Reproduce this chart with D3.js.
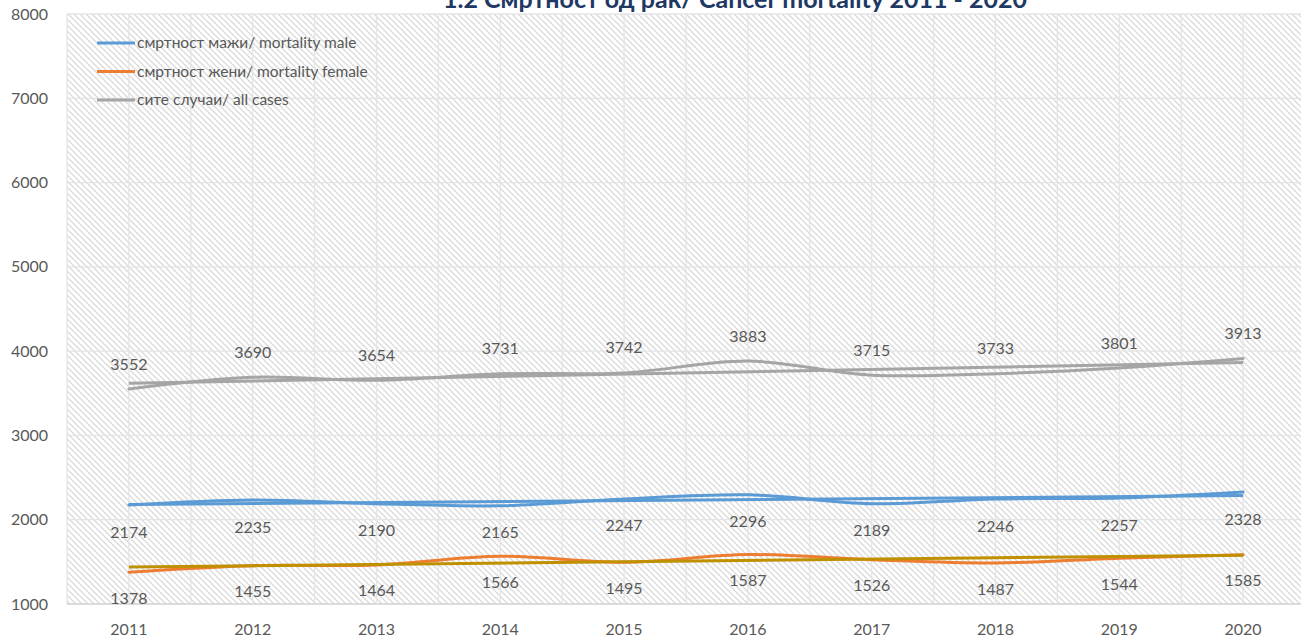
<!DOCTYPE html>
<html>
<head>
<meta charset="utf-8">
<script src="https://cdn.jsdelivr.net/npm/d3@7"></script>
<style>
  body { margin: 0; background: #fff; }
  svg { display: block; font-family: Lato, "Open Sans", sans-serif; }
</style>
</head>
<body>
<svg id="chart" width="1301" height="642"></svg>
<script>
// Data
const YEARS = ["2011", "2012", "2013", "2014", "2015", "2016", "2017", "2018", "2019", "2020"];
const MALE = [2174, 2235, 2190, 2165, 2247, 2296, 2189, 2246, 2257, 2328];
const FEMALE = [1378, 1455, 1464, 1566, 1495, 1587, 1526, 1487, 1544, 1585];
const ALL = [3552, 3690, 3654, 3731, 3742, 3883, 3715, 3733, 3801, 3913];
// trend lines, values at the first and last year
const TREND_MALE = [2180, 2286];
const TREND_FEMALE = [1438, 1579];
const TREND_ALL = [3618, 3865];
const Y_TICKS = [1000, 2000, 3000, 4000, 5000, 6000, 7000, 8000];
const LEGEND = ["смртност мажи/ mortality male", "смртност жени/ mortality female", "сите случаи/ all cases"];
const TITLE = "1.2 Смртност од рак/ Cancer mortality 2011 - 2020";

const SVG = d3.select("#chart");
const PLOT = { left: 67, right: 1305, top: 14, bottom: 604 };
const TEXT = "#595959";

const X = d3.scaleBand().domain(YEARS).range([PLOT.left, PLOT.right]);
const XC = d => X(d) + X.bandwidth() / 2;
const Y = d3.scaleLinear().domain([1000, 8000]).range([PLOT.bottom, PLOT.top]);

// hatched background
const defs = SVG.append("defs");
const pat = defs.append("pattern")
  .attr("id", "hatch").attr("patternUnits", "userSpaceOnUse")
  .attr("width", 6).attr("height", 6);
pat.append("rect").attr("width", 6).attr("height", 6).attr("fill", "#fff");
pat.append("path").attr("d", "M-1,-1 L7,7 M-1,5 L1,7 M5,-1 L7,1")
  .attr("stroke", "#dadada").attr("stroke-width", 1.3);

SVG.append("rect")
  .attr("x", PLOT.left).attr("y", PLOT.top)
  .attr("width", PLOT.right - PLOT.left).attr("height", PLOT.bottom - PLOT.top)
  .attr("fill", "url(#hatch)");

// title, cut by the top edge as in the source
SVG.append("text")
  .attr("x", 735).attr("y", 8)
  .attr("text-anchor", "middle")
  .attr("font-size", 25).attr("font-weight", "bold")
  .attr("fill", "#203864")
  .text(TITLE);

// grid
SVG.append("g").selectAll("line").data(Y_TICKS).join("line")
  .attr("x1", PLOT.left).attr("x2", PLOT.right)
  .attr("y1", d => Y(d)).attr("y2", d => Y(d))
  .attr("stroke", d => d === 1000 ? "#d0d0d0" : "#e4e4e4").attr("stroke-width", 1.3);

const vLines = YEARS.flatMap(y => [X(y), XC(y)]);
SVG.append("g").selectAll("line").data(vLines).join("line")
  .attr("x1", d => d).attr("x2", d => d)
  .attr("y1", PLOT.top).attr("y2", PLOT.bottom)
  .attr("stroke", "#e4e4e4").attr("stroke-width", 1.3);

// axes labels
SVG.append("g").selectAll("text").data(Y_TICKS).join("text")
  .attr("x", 48).attr("y", d => Y(d))
  .attr("dy", "0.35em").attr("text-anchor", "end")
  .attr("font-size", 16).attr("fill", TEXT)
  .text(d => d);

SVG.append("g").selectAll("text").data(YEARS).join("text")
  .attr("x", d => XC(d)).attr("y", 629)
  .attr("dy", "0.35em").attr("text-anchor", "middle")
  .attr("font-size", 16).attr("fill", TEXT)
  .text(d => d);

// series
const series = [
  { values: ALL, trend: TREND_ALL, color: "#a5a5a5", trendColor: "#a5a5a5", dy: -25 },
  { values: MALE, trend: TREND_MALE, color: "#5b9bd5", trendColor: "#5b9bd5", dy: 27 },
  { values: FEMALE, trend: TREND_FEMALE, color: "#ed7d31", trendColor: "#bf9000", dy: 26 }
];

const line = d3.line()
  .x((d, i) => XC(YEARS[i]))
  .y(d => Y(d))
  .curve(d3.curveCatmullRom.alpha(0.5));

series.forEach(s => {
  SVG.append("path")
    .datum(s.values)
    .attr("d", line)
    .attr("fill", "none")
    .attr("stroke", s.color).attr("stroke-width", 3)
    .attr("stroke-linecap", "round");
});

series.forEach(s => {
  SVG.append("line")
    .attr("x1", XC(YEARS[0])).attr("x2", XC(YEARS[YEARS.length - 1]))
    .attr("y1", Y(s.trend[0])).attr("y2", Y(s.trend[1]))
    .attr("stroke", s.trendColor).attr("stroke-width", 3);
});

series.forEach(s => {
  SVG.append("g").selectAll("text").data(s.values).join("text")
    .attr("x", (d, i) => XC(YEARS[i]))
    .attr("y", d => Y(d) + s.dy)
    .attr("dy", "0.35em").attr("text-anchor", "middle")
    .attr("font-size", 16).attr("fill", TEXT)
    .text(d => d);
});

// legend
const lg = SVG.append("g").selectAll("g").data(LEGEND).join("g")
  .attr("transform", (d, i) => `translate(97, ${43 + i * 28.5})`);
lg.append("line")
  .attr("x1", 0).attr("x2", 38)
  .attr("stroke", (d, i) => series[[1, 2, 0][i]].color)
  .attr("stroke-width", 3);
lg.append("text")
  .attr("x", 40).attr("dy", "0.35em")
  .attr("font-size", 15.5).attr("fill", TEXT)
  .text(d => d);
</script>
</body>
</html>
